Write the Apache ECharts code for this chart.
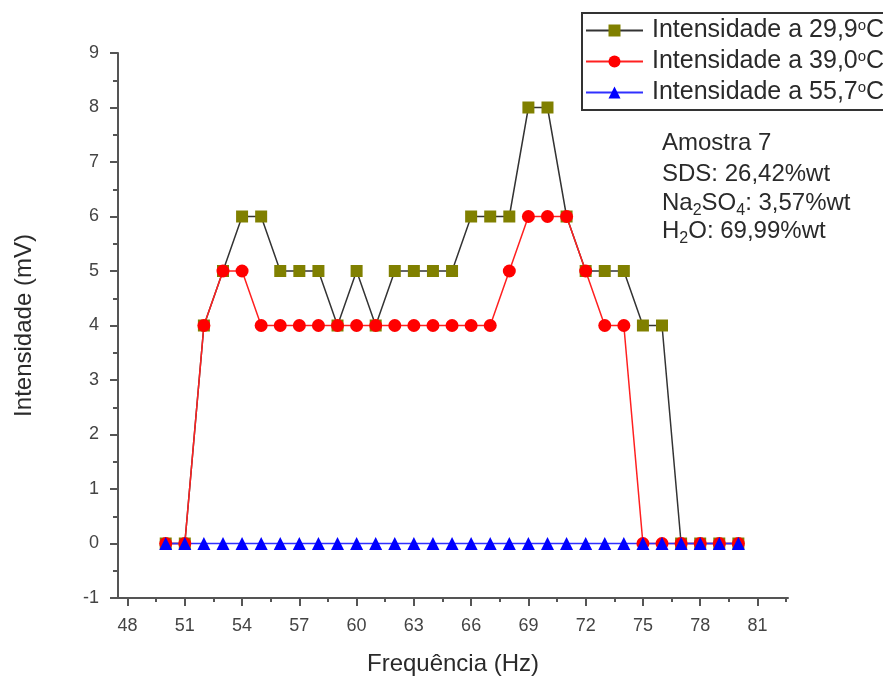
<!DOCTYPE html>
<html>
<head>
<meta charset="utf-8">
<script src="https://cdn.jsdelivr.net/npm/echarts@6/dist/echarts.min.js"></script>
<style>
html,body{margin:0;padding:0;background:#fff;}
#chart{width:883px;height:676px;}
</style>
</head>
<body>
<div id="chart"></div>
<script>
const freq = [50,51,52,53,54,55,56,57,58,59,60,61,62,63,64,65,66,67,68,69,70,71,72,73,74,75,76,77,78,79,80];
const int299 = [0,0,4,5,6,6,5,5,5,4,5,4,5,5,5,5,6,6,6,8,8,6,5,5,5,4,4,0,0,0,0];
const int390 = [0,0,4,5,5,4,4,4,4,4,4,4,4,4,4,4,4,4,5,6,6,6,5,4,4,0,0,0,0,0,0];
const int557 = [0,0,0,0,0,0,0,0,0,0,0,0,0,0,0,0,0,0,0,0,0,0,0,0,0,0,0,0,0,0,0];
const xTickValues = [48,51,54,57,60,63,66,69,72,75,78,81];
const xMinorTickValues = [49.5,52.5,55.5,58.5,61.5,64.5,67.5,70.5,73.5,76.5,79.5,82.5];
const seriesNames = ['Intensidade a 29,9{sup|o}C','Intensidade a 39,0{sup|o}C','Intensidade a 55,7{sup|o}C'];
const noteLines = ['Amostra 7','SDS: 26,42%wt','Na{sub|2}SO{sub|4}: 3,57%wt','H{sub|2}O: 69,99%wt'];

const FONT = '"Liberation Sans", Arial, sans-serif';
const chart = echarts.init(document.getElementById('chart'));
const pairs = a => freq.map((f,i)=>[f,a[i]]);

const noteRich = {
  sub: {fontSize: 16, lineHeight: 16, padding: [15,0,0,0], fontFamily: FONT, fill: '#2a2a2a'}
};

chart.setOption({
  animation: false,
  backgroundColor: '#fff',
  grid: {left: 118, top: 53, right: 95, bottom: 78, containLabel: false, outerBoundsMode: 'none'},
  xAxis: [{
    type: 'value', min: 47.5, max: 82.6,
    name: 'Frequência (Hz)', nameLocation: 'middle', nameGap: 54,
    nameTextStyle: {fontSize: 24, fontFamily: FONT, color: '#2a2a2a'},
    axisLine: {show: true, onZero: false, lineStyle: {color: '#555', width: 2}},
    axisTick: {show: true, inside: false, length: 8, customValues: xTickValues, lineStyle: {color: '#555', width: 2}},
    axisLabel: {show: true, customValues: xTickValues, margin: 19, fontSize: 18, fontFamily: FONT, color: '#444'},
    splitLine: {show: false}
  },{
    type: 'value', min: 47.5, max: 82.6, position: 'bottom',
    axisLine: {show: false, onZero: false},
    axisTick: {show: true, inside: false, length: 4, customValues: xMinorTickValues, lineStyle: {color: '#555', width: 2}},
    axisLabel: {show: false},
    splitLine: {show: false}
  }],
  yAxis: {
    type: 'value', min: -1, max: 9, interval: 1,
    name: 'Intensidade (mV)', nameLocation: 'middle', nameGap: 82,
    nameTextStyle: {fontSize: 24, fontFamily: FONT, color: '#2a2a2a'},
    axisLine: {show: true, onZero: false, lineStyle: {color: '#555', width: 2}},
    axisTick: {show: true, inside: false, length: 8, lineStyle: {color: '#555', width: 2}},
    minorTick: {show: true, splitNumber: 2, length: 5, lineStyle: {color: '#555', width: 2}},
    axisLabel: {margin: 19, fontSize: 18, fontFamily: FONT, color: '#444'},
    splitLine: {show: false}
  },
  legend: {
    orient: 'vertical', left: 582, top: 13,
    padding: [5, 20, 5, 3],
    itemGap: 6, itemWidth: 57, itemHeight: 15,
    borderColor: '#333', borderWidth: 2, backgroundColor: '#fff',
    data: seriesNames,
    formatter: n => n,
    textStyle: {fontSize: 25, lineHeight: 24, fontFamily: FONT, color: '#2a2a2a', padding: [0,0,0,4],
      rich: {sup: {fontSize: 15, lineHeight: 14, padding: [0,0,10,0], fontFamily: FONT, color: '#2a2a2a'}}}
  },
  graphic: noteLines.map((t,i)=>({
    type: 'text', left: 662, top: [128, 159, 188, 216][i],
    style: {text: t, fontSize: 24, lineHeight: 30, fontFamily: FONT, fill: '#2a2a2a', rich: noteRich}
  })),
  series: [{
    name: seriesNames[0], type: 'line', data: pairs(int299),
    symbol: 'rect', symbolSize: 12,
    itemStyle: {color: '#808000'},
    lineStyle: {color: '#333', width: 1.5}
  },{
    name: seriesNames[1], type: 'line', data: pairs(int390),
    symbol: 'circle', symbolSize: 13,
    itemStyle: {color: '#ff0000'},
    lineStyle: {color: '#ff2020', width: 1.5}
  },{
    name: seriesNames[2], type: 'line', data: pairs(int557),
    symbol: 'triangle', symbolSize: 13,
    itemStyle: {color: '#0000ff'},
    lineStyle: {color: '#3030ff', width: 1.5}
  }]
});
</script>
</body>
</html>
